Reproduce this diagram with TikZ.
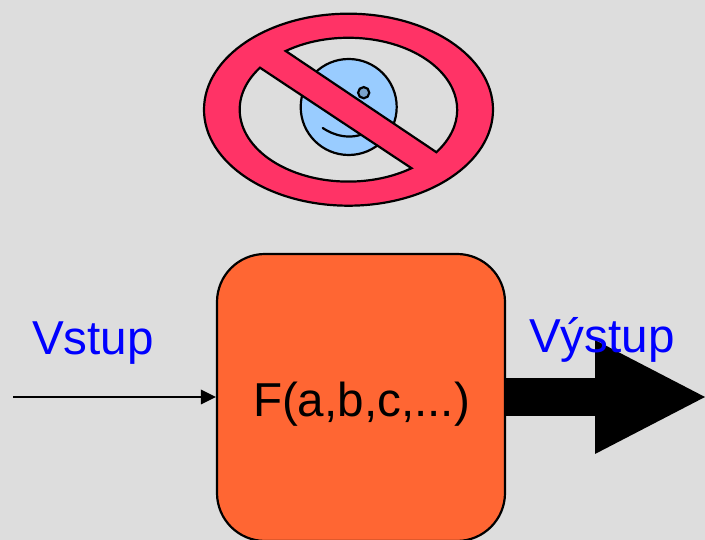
\documentclass[tikz,border=0pt]{standalone}
\usepackage{fontspec}
\setmainfont{Liberation Sans}
\usetikzlibrary{arrows.meta}
\definecolor{bg}{HTML}{DDDDDD}
\definecolor{ringred}{HTML}{FF3366}
\definecolor{boxorange}{HTML}{FF6633}
\definecolor{faceblue}{HTML}{99CCFF}
\definecolor{eyeblue}{HTML}{7BA3CC}
\tikzset{
  outline/.style={draw=black,line width=2.2pt},
  label text/.style={inner sep=0pt,text=blue,anchor=base west,font=\fontsize{47.6}{50}\selectfont},
}
\begin{document}
\begin{tikzpicture}[x=1pt,y=1pt]
\useasboundingbox (0,0) rectangle (705,540);
\clip (0,0) rectangle (705,540);
\fill[bg] (0,0) rectangle (705,540);
% face
\draw[outline,fill=faceblue] (348.7,433) circle [radius=48];
\draw[outline,fill=eyeblue] (363.7,447.3) circle [radius=5.6];
\draw[outline,line cap=round] (322.7,412) .. controls (333,405) and (350,399) .. (368,408);
% prohibition sign
\draw[outline,fill=ringred,even odd rule]
  (348.5,430.3) ellipse [x radius=144.5,y radius=96]
  (285.7,489) arc [start angle=125.3,end angle=-36.1,x radius=108.7,y radius=72] -- cycle
  (260,472.3) arc [start angle=144.4,end angle=305.5,x radius=108.7,y radius=72] -- cycle;
% function block
\node[outline,fill=boxorange,rounded corners=48pt,minimum width=288pt,minimum height=287pt,inner sep=0pt] (box) at (361,142.5) {};
\node[inner sep=0pt,anchor=base,font=\fontsize{47.6}{50}\selectfont] (func) at (361.5,123) {F(a,b,c,...)};
% connectors
\coordinate (inStart) at (13,143);
\coordinate (outTip) at (705,143);
\draw[line width=2pt,-{Triangle[length=15pt,width=15pt,line width=0pt]}] (inStart) -- (inStart -| box.west);
\draw[line width=38pt,-{Triangle[length=110pt,width=114pt,line width=0pt]}] (outTip -| box.east) -- (outTip);
% labels
\node[label text] (vstup) at (32,185) {Vstup};
\node[label text] (vystup) at (529,187.5) {Výstup};
\end{tikzpicture}
\end{document}
